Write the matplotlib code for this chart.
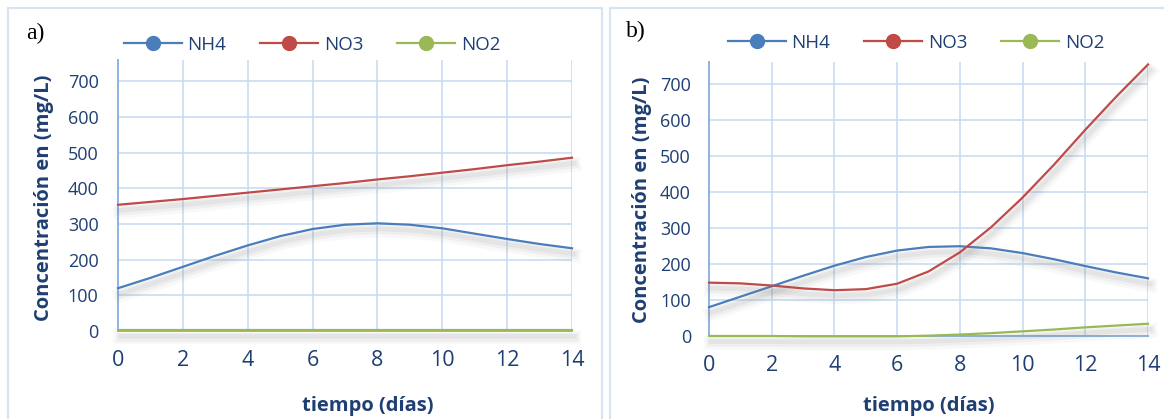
import numpy as np
import matplotlib
matplotlib.use("Agg")
import matplotlib.pyplot as plt
import matplotlib.patheffects as pe
from matplotlib.lines import Line2D
from matplotlib.patches import Rectangle

# days
dias = [0, 1, 2, 3, 4, 5, 6, 7, 8, 9, 10, 11, 12, 13, 14]

# panel a)
nh4_a = [120, 149, 180, 211, 240, 266, 286, 298, 302, 298, 288, 273, 258, 244, 232]
no3_a = [354, 362, 370, 379, 388, 397, 406, 415, 425, 434, 444, 454, 465, 475, 486]
no2_a = [2, 2, 2, 2, 2, 2, 2, 2, 2, 2, 2, 2, 2, 2, 2]

# panel b)
nh4_b = [80, 109, 138, 167, 195, 219, 237, 247, 249, 243, 230, 213, 194, 176, 160]
no3_b = [148, 146, 140, 132, 127, 130, 145, 179, 232, 302, 384, 475, 572, 665, 753]
no2_b = [0, 0, 0, -1, -1, -1, -1, 1, 4, 8, 13, 18, 24, 29, 34]

series_names = ["NH4", "NO3", "NO2"]
colores = ["#4a7ebb", "#be4b48", "#98b954"]

txt_color = "#1f3f73"
grid_color = "#c9dbf1"
spine_color = "#8fb3e0"
box_color = "#d5e3f4"
fnt = "Open Sans"

fig = plt.figure(figsize=(11.64, 4.19), dpi=100)
W, H = 1164.0, 419.0

# outer panel boxes
fig.patches.append(Rectangle((8 / W, -0.05), 594 / W, 1.05 - 8 / H, transform=fig.transFigure,
                             fill=False, edgecolor=box_color, lw=1.5))
fig.patches.append(Rectangle((610 / W, -0.05), 0.6, 1.05 - 8 / H, transform=fig.transFigure,
                             fill=False, edgecolor=box_color, lw=1.5))

ax1 = fig.add_axes([118 / W, 1 - 331 / H, (572 - 118) / W, (331 - 60) / H])
ax2 = fig.add_axes([709 / W, 1 - 336 / H, (1148 - 709) / W, (336 - 62) / H])

shadow = [pe.SimpleLineShadow(offset=(1.5, -5), shadow_color="#808080", alpha=0.05, linewidth=10),
          pe.SimpleLineShadow(offset=(1.5, -4.5), shadow_color="#808080", alpha=0.07, linewidth=6.5),
          pe.SimpleLineShadow(offset=(1.5, -4), shadow_color="#808080", alpha=0.09, linewidth=3.5),
          pe.Normal()]

def draw_panel(ax, datos, ymax, ypad, xl_pos, yl_pos):
    for vals, c in zip(datos, colores):
        ax.plot(dias, vals, color=c, lw=1.6, path_effects=shadow, zorder=3, clip_on=False,
                solid_joinstyle="round")
    ax.set_xlim(0, 14)
    ax.set_ylim(0, ymax)
    ax.set_xticks(range(0, 15, 2))
    ax.set_yticks(range(0, 701, 100))
    ax.grid(True, color=grid_color, lw=1.2)
    ax.set_axisbelow(True)
    for s in ["top", "right"]:
        ax.spines[s].set_visible(False)
    for s in ["left", "bottom"]:
        ax.spines[s].set_color(spine_color)
        ax.spines[s].set_linewidth(1.4)
    ax.tick_params(length=0, labelcolor=txt_color)
    ax.tick_params(axis="x", pad=14, labelsize=15.5)
    ax.tick_params(axis="y", pad=ypad, labelsize=13)
    for lab in ax.get_xticklabels() + ax.get_yticklabels():
        lab.set_family(fnt)
    ax.set_xlabel("tiempo (días)", fontsize=14.5, fontweight="bold", color=txt_color, family=fnt)
    ax.set_ylabel("Concentración en (mg/L)", fontsize=14.5, fontweight="bold", color=txt_color,
                  family=fnt)
    ax.xaxis.set_label_coords(*xl_pos)
    ax.yaxis.set_label_coords(*yl_pos)

draw_panel(ax1, [nh4_a, no3_a, no2_a], 760, 14, (0.551, -0.24), (-0.142, 0.49))
draw_panel(ax2, [nh4_b, no3_b, no2_b], 760, 13, (0.5, -0.22), (-0.13, 0.496))

handles = [Line2D([0], [0], color=c, lw=1.6, marker="o", markersize=10,
                  markerfacecolor=c, markeredgecolor=c) for c in colores]

for cx, cy in [(312 / W, 1 - 45 / H), (916 / W, 1 - 43 / H)]:
    fig.legend(handles, series_names, loc="center", bbox_to_anchor=(cx, cy), ncol=3,
               frameon=False, handlelength=3.1, columnspacing=1.8, handletextpad=0.3,
               prop={"family": fnt, "size": 13.5}, labelcolor=txt_color)

fig.text(26 / W, 1 - 33 / H, "a)", family="Liberation Serif", fontsize=17, va="center", ha="left")
fig.text(626 / W, 1 - 31 / H, "b)", family="Liberation Serif", fontsize=17, va="center", ha="left")

fig.savefig("out.png", dpi=100)
